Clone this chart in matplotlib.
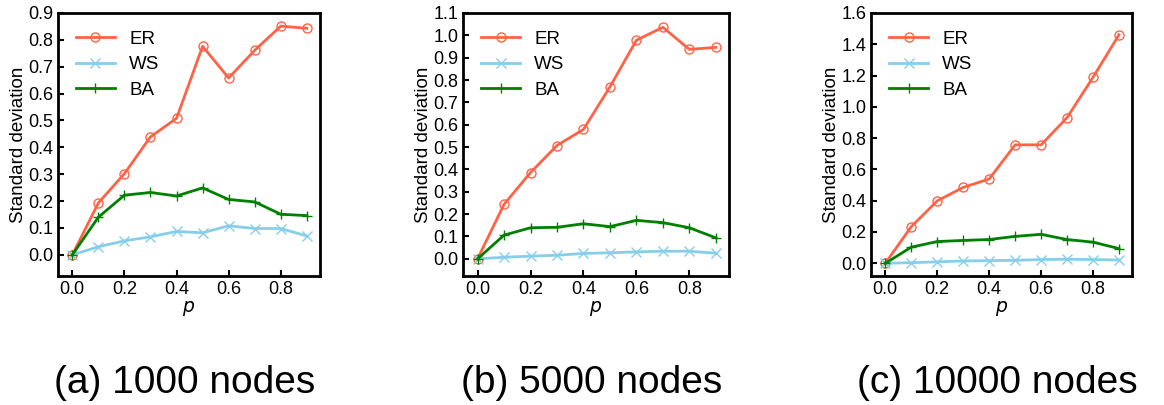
import matplotlib
matplotlib.use('Agg')
import matplotlib.pyplot as plt

plt.rcParams['font.family'] = ['Liberation Sans', 'DejaVu Sans']

# Данные
p = [0.0, 0.1, 0.2, 0.3, 0.4, 0.5, 0.6, 0.7, 0.8, 0.9]

er_1000 = [0.0, 0.193, 0.302, 0.439, 0.508, 0.776, 0.658, 0.761, 0.851, 0.843]
ws_1000 = [0.0, 0.030, 0.052, 0.067, 0.087, 0.082, 0.108, 0.098, 0.098, 0.070]
ba_1000 = [0.0, 0.140, 0.222, 0.232, 0.219, 0.249, 0.206, 0.197, 0.151, 0.146]

er_5000 = [0.0, 0.244, 0.386, 0.507, 0.579, 0.769, 0.978, 1.036, 0.937, 0.946]
ws_5000 = [0.0, 0.007, 0.012, 0.016, 0.024, 0.027, 0.031, 0.034, 0.034, 0.025]
ba_5000 = [0.0, 0.106, 0.139, 0.141, 0.157, 0.144, 0.172, 0.162, 0.139, 0.094]

er_10000 = [0.0, 0.234, 0.399, 0.485, 0.539, 0.757, 0.757, 0.931, 1.189, 1.461]
ws_10000 = [0.0, 0.004, 0.009, 0.015, 0.017, 0.019, 0.024, 0.026, 0.024, 0.021]
ba_10000 = [0.0, 0.103, 0.139, 0.146, 0.152, 0.172, 0.185, 0.152, 0.135, 0.094]

titles = ['(a) 1000 nodes', '(b) 5000 nodes', '(c) 10000 nodes']


def draw_panel(ax, er, ws, ba, ylim, yticks):
    """Одна панель графика"""
    ax.plot(p, er, color='tomato', marker='o', fillstyle='none',
            markersize=6.5, linewidth=2, label='ER')
    ax.plot(p, ws, color='skyblue', marker='x',
            markersize=6.5, linewidth=2, label='WS')
    ax.plot(p, ba, color='green', marker='+',
            markersize=7, linewidth=2, label='BA')
    ax.set_xlim(-0.055, 0.95)
    ax.set_ylim(*ylim)
    ax.set_yticks(yticks)
    ax.set_xticks([0.0, 0.2, 0.4, 0.6, 0.8])
    ax.set_xlabel('$p$', fontsize=13.5, labelpad=1)
    ax.set_ylabel('Standard deviation', fontsize=13.5, labelpad=1)
    ax.tick_params(direction='in', labelsize=13, length=4, width=1.5,
                   top=False, right=False)
    for s in ax.spines.values():
        s.set_linewidth(2)
    ax.legend(loc='upper left', frameon=False, fontsize=13.5,
              numpoints=1, handlelength=2.1, borderaxespad=0.55,
              labelspacing=0.45, handletextpad=0.75)


fig = plt.figure(figsize=(11.64, 4.05), dpi=100)

ax1 = fig.add_axes([0.0498, 0.319, 0.225, 0.649])
ax2 = fig.add_axes([0.3978, 0.319, 0.2285, 0.649])
ax3 = fig.add_axes([0.7483, 0.319, 0.2242, 0.649])

draw_panel(ax1, er_1000, ws_1000, ba_1000, (-0.078, 0.9),
           [0.0, 0.1, 0.2, 0.3, 0.4, 0.5, 0.6, 0.7, 0.8, 0.9])
draw_panel(ax2, er_5000, ws_5000, ba_5000, (-0.076, 1.1),
           [0.0, 0.1, 0.2, 0.3, 0.4, 0.5, 0.6, 0.7, 0.8, 0.9, 1.0, 1.1])
draw_panel(ax3, er_10000, ws_10000, ba_10000, (-0.08, 1.6),
           [0.0, 0.2, 0.4, 0.6, 0.8, 1.0, 1.2, 1.4, 1.6])

for ax, t in zip([ax1, ax2, ax3], titles):
    pos = ax.get_position()
    fig.text((pos.x0 + pos.x1) / 2 - 0.004, 0.055, t, fontsize=28,
             ha='center', va='center')

fig.savefig('out.png', dpi=100)
